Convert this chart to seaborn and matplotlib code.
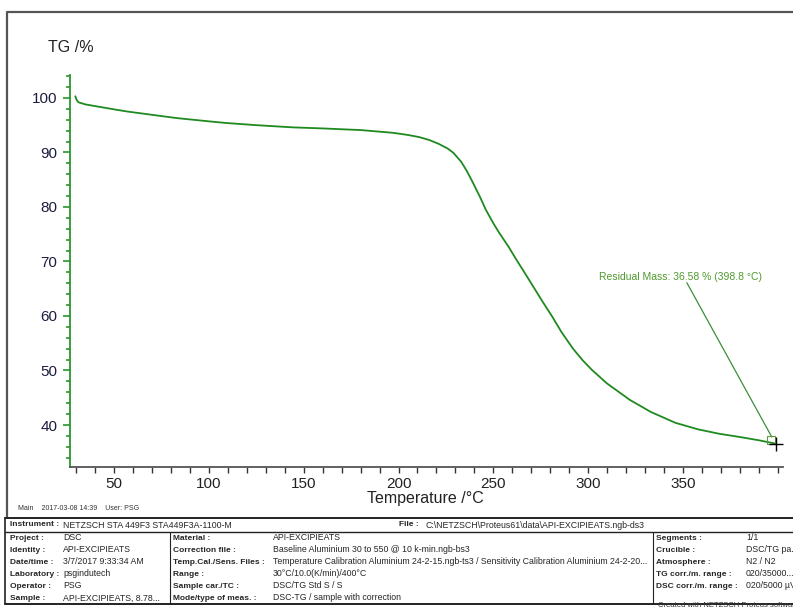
import numpy as np
import pandas as pd
import seaborn as sns
import matplotlib as mpl
import matplotlib.pyplot as plt
from matplotlib.ticker import MultipleLocator

sns.set_style("white")
mpl.rcParams['font.family'] = ['Liberation Sans', 'DejaVu Sans']

# TG curve
temp_c = [29.6, 30.2, 31.2, 35, 40, 50, 57, 70, 83, 100, 109, 125, 144, 160,
          180, 197, 205, 211, 216, 221, 226, 229, 233, 236, 239, 243, 246, 250,
          253, 258, 262, 266, 271, 276, 281, 286, 292, 297, 302, 310, 322, 333,
          346, 358, 369, 380, 390, 398.8]
tg_pct = [100.3, 99.7, 99.2, 98.8, 98.5, 97.9, 97.5, 96.9, 96.3, 95.7, 95.4,
          95.0, 94.6, 94.4, 94.1, 93.6, 93.2, 92.8, 92.3, 91.6, 90.7, 89.9,
          88.3, 86.6, 84.6, 81.8, 79.5, 77.0, 75.3, 72.7, 70.4, 68.2, 65.4,
          62.6, 59.9, 57.0, 54.0, 51.9, 50.1, 47.6, 44.6, 42.4, 40.4, 39.2,
          38.4, 37.8, 37.2, 36.58]

residual_t = 398.8
residual_mass = 36.58

x_ticks = [50, 100, 150, 200, 250, 300, 350]
y_ticks = [40, 50, 60, 70, 80, 90, 100]

df = pd.DataFrame({"Temperature": temp_c, "TG": tg_pct})

W, H = 793, 610
fig = plt.figure(figsize=(W / 100, H / 100), dpi=100)

green = '#2a962a'
ax = fig.add_axes([70 / W, 1 - 467 / H, 713 / W, 392 / H])
sns.lineplot(data=df, x="Temperature", y="TG", ax=ax, color='#1f8a1f', lw=1.3,
             sort=False, estimator=None)
ax.set_xlim(26.8, 402.7)
ax.set_ylim(32.3, 104.2)
ax.set_xticks(x_ticks)
ax.set_yticks(y_ticks)
ax.xaxis.set_minor_locator(MultipleLocator(10))
ax.yaxis.set_minor_locator(MultipleLocator(2))
ax.set_xlabel("")
ax.set_ylabel("")
for s in ['top', 'right']:
    ax.spines[s].set_visible(False)
ax.spines['left'].set_color(green)
ax.spines['left'].set_linewidth(1.3)
ax.spines['bottom'].set_color('#555555')
ax.spines['bottom'].set_linewidth(1.3)
ax.tick_params(axis='y', which='both', direction='out', color=green, width=1.2,
               labelsize=11, labelcolor='#1c1c40', left=True)
ax.tick_params(axis='y', which='major', length=5, pad=4)
ax.tick_params(axis='y', which='minor', length=3)
ax.tick_params(axis='x', which='both', direction='out', color='#333333', width=1,
               labelsize=11, labelcolor='#222222', bottom=True, length=4, pad=3)

# residual mass annotation
ax.plot([352, 396.8], [66.1, 37.8], color='#3a8f3a', lw=0.9)
ax.text(305.8, 67.2, "Residual Mass: %.2f %% (%.1f °C)" % (residual_mass, residual_t),
        color='#4e9a2e', fontsize=7.5, va='center', ha='left')
ax.plot([396.3], [37.3], marker='s', ms=6, mfc='none', mec='#5a9a3a', mew=0.8)
ax.plot([residual_t], [residual_mass], marker='+', ms=10, color='black', mew=1)

# page overlay in pixel coordinates
ov = fig.add_axes([0, 0, 1, 1], zorder=-1)
ov.set_xlim(0, W)
ov.set_ylim(H, 0)
ov.axis('off')

ov.plot([7, 7, W], [517, 12, 12], color='#555555', lw=1.6)
ov.text(48, 47, "TG /%", fontsize=11.5, va='center', color='#222222')
ov.text(425, 498, "Temperature /°C", fontsize=11.5, ha='center', va='center',
        color='#222222')
ov.text(18, 509, "Main    2017-03-08 14:39    User: PSG", fontsize=5, va='center',
        color='#333333')

# info table
lc = '#222222'
ov.plot([5, W], [518, 518], color=lc, lw=1.4)
ov.plot([5, W], [532, 532], color=lc, lw=1.0)
ov.plot([5, W], [604, 604], color=lc, lw=1.4)
ov.plot([5, 5], [518, 604], color=lc, lw=1.2)
ov.plot([170, 170], [532, 604], color=lc, lw=0.8)
ov.plot([653, 653], [532, 604], color=lc, lw=0.8)

fs = 6.3
fb = 6.0
ov.text(10, 525, "Instrument :", fontsize=fb, weight='bold', va='center')
ov.text(63, 525, "NETZSCH STA 449F3 STA449F3A-1100-M", fontsize=fs, va='center')
ov.text(399, 525, "File :", fontsize=fb, weight='bold', va='center')
ov.text(425, 525, "C:\\NETZSCH\\Proteus61\\data\\API-EXCIPIEATS.ngb-ds3", fontsize=fs,
        va='center')

rows_y = [538, 550, 562, 574, 586, 598]
col1 = [("Project :", "DSC"), ("Identity :", "API-EXCIPIEATS"),
        ("Date/time :", "3/7/2017 9:33:34 AM"), ("Laboratory :", "psgindutech"),
        ("Operator :", "PSG"), ("Sample :", "API-EXCIPIEATS, 8.78...")]
col2 = [("Material :", "API-EXCIPIEATS"),
        ("Correction file :", "Baseline Aluminium 30 to 550 @ 10 k-min.ngb-bs3"),
        ("Temp.Cal./Sens. Files :", "Temperature Calibration Aluminium 24-2-15.ngb-ts3 / "
         "Sensitivity Calibration Aluminium 24-2-20..."),
        ("Range :", "30°C/10.0(K/min)/400°C"),
        ("Sample car./TC :", "DSC/TG Std S / S"),
        ("Mode/type of meas. :", "DSC-TG / sample with correction")]
col3 = [("Segments :", "1/1"), ("Crucible :", "DSC/TG pa..."),
        ("Atmosphere :", "N2 / N2"), ("TG corr./m. range :", "020/35000..."),
        ("DSC corr./m. range :", "020/5000 µV...")]

for (lab, val), y in zip(col1, rows_y):
    ov.text(10, y, lab, fontsize=fb, weight='bold', va='center')
    ov.text(63, y, val, fontsize=fs, va='center')
for (lab, val), y in zip(col2, rows_y):
    ov.text(173, y, lab, fontsize=fb, weight='bold', va='center')
    ov.text(273, y, val, fontsize=fs, va='center')
for (lab, val), y in zip(col3, rows_y):
    ov.text(656, y, lab, fontsize=fb, weight='bold', va='center')
    ov.text(746, y, val, fontsize=fs, va='center')

ov.text(658, 609, "Created with NETZSCH Proteus software", fontsize=5.5, va='bottom',
        color='#333333')

fig.savefig("out.png", dpi=100)
